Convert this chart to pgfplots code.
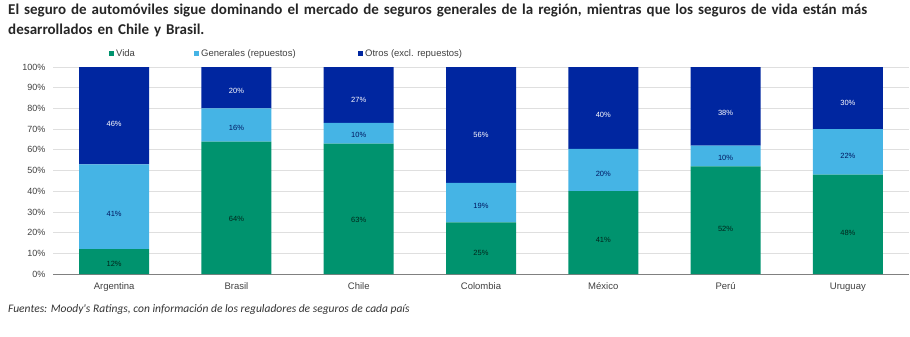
\documentclass[border=0pt]{standalone}
\usepackage{pgfplots}
\pgfplotsset{compat=1.18}
\usepackage{fontspec}
\setmainfont{Liberation Sans}
\newfontfamily\carlito{Carlito}
\definecolor{cVida}{HTML}{00936E}
\definecolor{cGen}{HTML}{45B4E5}
\definecolor{cOtr}{HTML}{0026A0}
\definecolor{cTxt}{HTML}{404040}
\begin{document}
\begin{tikzpicture}
\path[use as bounding box] (0,0) rectangle (910pt,-337pt);
\node[anchor=north west, inner sep=0pt, text width=905pt, align=left,
  font=\carlito\bfseries\fontsize{15}{20}\selectfont, text=black!85] at (8pt,-4pt)
  {El seguro de automóviles sigue dominando el mercado de seguros generales de la región, mientras que los seguros de vida están más\\desarrollados en Chile y Brasil.};
\begin{axis}[at={(53pt,-274pt)}, anchor=south west, scale only axis,
  width=856pt, height=207pt,
  ybar stacked, bar width=70pt,
  xmin=-0.5, xmax=6.5, ymin=0, ymax=100,
  xtick={0,...,6},
  xticklabels={Argentina,Brasil,Chile,Colombia,México,Perú,Uruguay},
  ytick={0,10,...,100},
  /pgf/number format/assume math mode=true,
  yticklabel={\pgfmathprintnumber{\tick}\%},
  ymajorgrids, grid style={draw=gray!25, line width=0.8pt},
  axis lines*=left,
  y axis line style={draw=none},
  x axis line style={draw=gray, line width=0.8pt},
  major tick length=0pt,
  yticklabel style={font=\fontsize{9}{10}\selectfont, text=cTxt, xshift=-4pt},
  xticklabel style={font=\fontsize{9.5}{10}\selectfont, text=cTxt, yshift=-5pt},
  point meta=explicit,
  nodes near coords={\pgfmathprintnumber{\pgfplotspointmeta}\%},
  visualization depends on=rawy \as \rawy,
  every node near coord/.append style={anchor=center, font=\fontsize{7.5}{8}\selectfont,
    yshift=-1.035pt*\rawy/6},
  legend columns=3,
  legend style={draw=none, fill=none, at={(0.0654,1.065)}, anchor=west,
    font=\fontsize{9.5}{10}\selectfont, text=cTxt, inner sep=0pt,
    /tikz/every even column/.append style={column sep=0pt}},
  legend image code/.code={\fill[#1] (0pt,-2.5pt) rectangle (5pt,2.5pt);},
]
\addplot[fill=cVida, draw=none, every node near coord/.append style={text=black!75!cVida}]
 coordinates {(0,12)[12] (1,64)[64] (2,63)[63] (3,25)[25] (4,40)[41] (5,52)[52] (6,48)[48]};
\addplot[fill=cGen, draw=none, every node near coord/.append style={text=cOtr!60!black}]
 coordinates {(0,41)[41] (1,16)[16] (2,10)[10] (3,19)[19] (4,20.5)[20] (5,10)[10] (6,22)[22]};
\addplot[fill=cOtr, draw=none, every node near coord/.append style={text=white}]
 coordinates {(0,47)[46] (1,20)[20] (2,27)[27] (3,56)[56] (4,39.5)[40] (5,38)[38] (6,30)[30]};
\legend{\makebox[76pt][l]{Vida},\makebox[155pt][l]{Generales (repuestos)},Otros (excl. repuestos)}
\end{axis}
\node[anchor=base west, inner sep=0pt, font=\carlito\itshape\fontsize{11.5}{12}\selectfont, text=black!80]
  at (8pt,-312pt) {Fuentes: Moody's Ratings, con información de los reguladores de seguros de cada país};
\end{tikzpicture}
\end{document}
